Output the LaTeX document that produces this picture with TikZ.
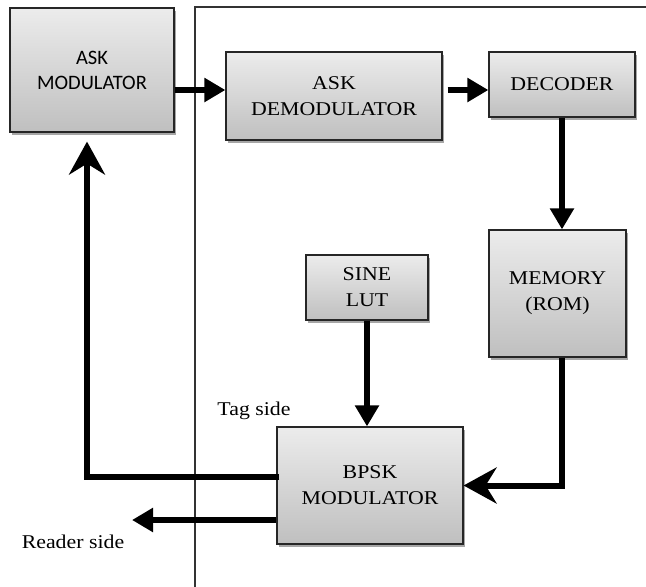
\documentclass[tikz,border=0pt]{standalone}
\usepackage{fontspec}
\setmainfont{Liberation Serif}[FakeStretch=1.12]
\newfontfamily\calfont{Carlito}
\usetikzlibrary{arrows.meta,shadows}

\begin{document}
\begin{tikzpicture}[x=1pt,y=1pt,
block/.style =
  {rectangle,
   draw=black!85, line width=1.2pt,
   top color=gray!15, bottom color=gray!50,
   drop shadow={shadow xshift=2pt,shadow yshift=-2.5pt,opacity=0.35,fill=black},
   align=center, font=\fontsize{19.5}{26}\selectfont},
flow/.style={line width=6pt,-{Triangle[length=21pt,width=23pt]}},
back/.style={line width=6pt,-{Stealth[length=33pt,width=36pt,inset=11pt]}},
sidetext/.style={font=\fontsize{19.5}{24}\selectfont}
]
\useasboundingbox (0,0) rectangle (646,-587);
%Frame
\draw[line width=1.5pt, black!80] (195,-587) -- (195,-7) -- (646,-7);
%Nodes
\node[block, minimum width=164pt, minimum height=124pt,
      font=\calfont\fontsize{20.5}{25}\selectfont] (askmod) at (92,-70) {ASK\\MODULATOR};
\node[block, minimum width=216pt, minimum height=88pt] (askdemod) at (334,-96) {ASK\\DEMODULATOR};
\node[block, minimum width=146pt, minimum height=65pt] (decoder) at (562,-84.5) {DECODER};
\node[block, minimum width=137pt, minimum height=127pt] (memory) at (557.5,-293.5) {MEMORY\\(ROM)};
\node[block, minimum width=122pt, minimum height=65pt] (sine) at (367,-287.5) {SINE\\LUT};
\node[block, minimum width=186pt, minimum height=117pt] (bpsk) at (370,-485.5) {BPSK\\MODULATOR};
\node[sidetext] (tag) at (254,-411) {Tag side};
\node[sidetext] (reader) at (73,-542) {Reader side};
\coordinate (rdtip) at (132,-520);
%Arrows
\draw[flow] ([yshift=-20pt]askmod.east) -- ([yshift=6pt]askdemod.west);
\draw[flow] ([xshift=5pt,yshift=6pt]askdemod.east) -- ([yshift=-5.5pt]decoder.west);
\draw[flow] (decoder.south) -- (decoder.south |- memory.north);
\draw[flow] (sine.south) -- (sine.south |- bpsk.north);
\draw[back] (decoder.south |- memory.south) |- (bpsk.east);
\draw[back] ([xshift=3pt,yshift=8.5pt]bpsk.west) -| ([xshift=-5pt,yshift=-9pt]askmod.south);
\draw[flow] ([yshift=-34.5pt]bpsk.west) -- (rdtip);
\end{tikzpicture}
\end{document}
